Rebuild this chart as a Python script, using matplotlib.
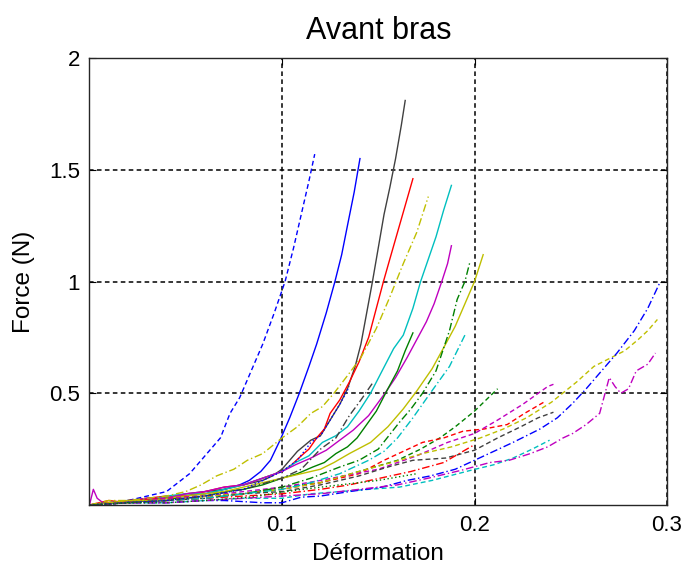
import matplotlib
matplotlib.use('Agg')
import matplotlib.pyplot as plt

# couleurs MATLAB (ancien ordre)
B = '#0000ff'
G = '#008000'
R = '#ff0000'
C = '#00bfbf'
M = '#bf00bf'
Y = '#bfbf00'
K = '#404040'

# --- courbes traits pleins ---
blue_solid_x = [0, 0.01, 0.02, 0.03, 0.04, 0.05, 0.06, 0.07, 0.078, 0.083, 0.089, 0.094, 0.099, 0.104, 0.109, 0.114, 0.118, 0.123, 0.1275, 0.131, 0.134, 0.1375, 0.1405]
blue_solid_y = [0, 0.01, 0.015, 0.02, 0.03, 0.04, 0.05, 0.07, 0.09, 0.11, 0.15, 0.2, 0.29, 0.39, 0.5, 0.62, 0.72, 0.86, 1.0, 1.12, 1.25, 1.4, 1.55]

gray_solid_x = [0, 0.01, 0.02, 0.03, 0.04, 0.05, 0.06, 0.07, 0.08, 0.09, 0.095, 0.1, 0.104, 0.108, 0.115, 0.12, 0.125, 0.13, 0.134, 0.138, 0.141, 0.144, 0.147, 0.15, 0.153, 0.156, 0.159, 0.162, 0.164]
gray_solid_y = [0, 0.01, 0.02, 0.03, 0.03, 0.05, 0.06, 0.07, 0.09, 0.11, 0.13, 0.16, 0.2, 0.24, 0.29, 0.31, 0.38, 0.45, 0.52, 0.62, 0.72, 0.86, 1.0, 1.15, 1.3, 1.42, 1.55, 1.7, 1.81]

red_solid_x = [0, 0.01, 0.02, 0.03, 0.04, 0.05, 0.06, 0.07, 0.08, 0.09, 0.1, 0.105, 0.11, 0.114, 0.118, 0.122, 0.125, 0.13, 0.135, 0.14, 0.145, 0.149, 0.1527, 0.156, 0.16, 0.164, 0.168]
red_solid_y = [0, 0.02, 0.01, 0.03, 0.04, 0.04, 0.06, 0.08, 0.09, 0.12, 0.15, 0.18, 0.22, 0.25, 0.3, 0.34, 0.41, 0.47, 0.55, 0.64, 0.75, 0.88, 1.0, 1.1, 1.22, 1.34, 1.46]

cyan_solid_x = [0, 0.01, 0.02, 0.03, 0.04, 0.05, 0.06, 0.07, 0.08, 0.09, 0.1, 0.107, 0.114, 0.121, 0.128, 0.134, 0.14, 0.146, 0.152, 0.158, 0.163, 0.168, 0.172, 0.176, 0.18, 0.184, 0.188]
cyan_solid_y = [0, 0.01, 0.02, 0.02, 0.04, 0.05, 0.05, 0.07, 0.09, 0.12, 0.15, 0.19, 0.22, 0.28, 0.31, 0.35, 0.42, 0.5, 0.6, 0.7, 0.76, 0.88, 1.0, 1.1, 1.2, 1.32, 1.43]

magenta_solid_x = [0, 0.002, 0.004, 0.007, 0.01, 0.02, 0.03, 0.04, 0.05, 0.06, 0.07, 0.08, 0.09, 0.1, 0.107, 0.115, 0.123, 0.13, 0.137, 0.145, 0.1535, 0.159, 0.165, 0.17, 0.175, 0.179, 0.183, 0.186, 0.188]
magenta_solid_y = [0, 0.07, 0.03, 0.01, 0.01, 0.02, 0.03, 0.03, 0.05, 0.06, 0.08, 0.09, 0.12, 0.15, 0.18, 0.21, 0.245, 0.29, 0.335, 0.4, 0.5, 0.57, 0.66, 0.74, 0.82, 0.9, 1.0, 1.08, 1.16]

green_solid_x = [0, 0.01, 0.02, 0.03, 0.04, 0.05, 0.06, 0.07, 0.08, 0.09, 0.1, 0.108, 0.116, 0.122, 0.128, 0.134, 0.139, 0.144, 0.149, 0.155, 0.16, 0.164, 0.168]
green_solid_y = [0, 0.01, 0.01, 0.02, 0.03, 0.03, 0.04, 0.06, 0.07, 0.09, 0.12, 0.14, 0.17, 0.19, 0.23, 0.26, 0.3, 0.36, 0.42, 0.52, 0.6, 0.69, 0.77]

yellow_solid_x = [0, 0.01, 0.02, 0.03, 0.04, 0.05, 0.06, 0.07, 0.08, 0.09, 0.1, 0.11, 0.12, 0.127, 0.135, 0.146, 0.155, 0.163, 0.17, 0.178, 0.185, 0.19, 0.195, 0.2, 0.2045]
yellow_solid_y = [0, 0.01, 0.02, 0.02, 0.03, 0.04, 0.05, 0.06, 0.08, 0.1, 0.12, 0.14, 0.16, 0.19, 0.23, 0.28, 0.35, 0.43, 0.51, 0.61, 0.72, 0.8, 0.9, 1.0, 1.12]

# --- courbes en tirets ---
blue_dash_x = [0, 0.01, 0.02, 0.03, 0.04, 0.046, 0.052, 0.058, 0.063, 0.068, 0.073, 0.078, 0.084, 0.09, 0.096, 0.1016, 0.106, 0.11, 0.114, 0.117]
blue_dash_y = [0, 0.01, 0.02, 0.04, 0.06, 0.1, 0.14, 0.2, 0.25, 0.3, 0.41, 0.48, 0.6, 0.72, 0.86, 1.0, 1.15, 1.3, 1.45, 1.57]

green_dash_x = [0, 0.02, 0.04, 0.06, 0.08, 0.1, 0.12, 0.14, 0.16, 0.172, 0.182, 0.19, 0.2, 0.206, 0.212]
green_dash_y = [0, 0.01, 0.02, 0.04, 0.05, 0.08, 0.1, 0.15, 0.2, 0.25, 0.3, 0.35, 0.42, 0.47, 0.52]

red_dash_x = [0, 0.02, 0.04, 0.06, 0.08, 0.1, 0.12, 0.14, 0.153, 0.163, 0.173, 0.184, 0.194, 0.205, 0.217, 0.226, 0.236]
red_dash_y = [0, 0.02, 0.03, 0.04, 0.05, 0.07, 0.1, 0.14, 0.2, 0.24, 0.28, 0.3, 0.33, 0.34, 0.36, 0.41, 0.46]

cyan_dash_x = [0, 0.02, 0.04, 0.06, 0.08, 0.1, 0.115, 0.13, 0.145, 0.161, 0.178, 0.198, 0.21, 0.22, 0.23, 0.239]
cyan_dash_y = [0, 0.01, 0.01, 0.02, 0.03, 0.03, 0.05, 0.06, 0.07, 0.08, 0.11, 0.155, 0.18, 0.21, 0.25, 0.29]

magenta_dash_x = [0, 0.02, 0.04, 0.06, 0.08, 0.1, 0.12, 0.15, 0.17, 0.186, 0.2, 0.212, 0.225, 0.238, 0.241]
magenta_dash_y = [0, 0.01, 0.03, 0.04, 0.06, 0.08, 0.11, 0.16, 0.22, 0.28, 0.32, 0.38, 0.45, 0.53, 0.54]

yellow_dash_x = [0, 0.02, 0.04, 0.06, 0.08, 0.1, 0.12, 0.14, 0.157, 0.173, 0.188, 0.203, 0.215, 0.227, 0.24, 0.253, 0.262, 0.27, 0.278, 0.285, 0.29, 0.295]
yellow_dash_y = [0, 0.02, 0.02, 0.04, 0.05, 0.07, 0.1, 0.15, 0.19, 0.23, 0.26, 0.3, 0.34, 0.39, 0.46, 0.55, 0.62, 0.655, 0.69, 0.74, 0.78, 0.83]

gray_dash_x = [0, 0.02, 0.04, 0.06, 0.08, 0.1, 0.12, 0.14, 0.155, 0.168, 0.185, 0.2, 0.212, 0.224, 0.233, 0.241]
gray_dash_y = [0, 0.01, 0.02, 0.03, 0.05, 0.06, 0.09, 0.13, 0.17, 0.2, 0.21, 0.245, 0.3, 0.35, 0.39, 0.415]

# --- courbes tiret-point ---
blue_dd_x = [0, 0.02, 0.04, 0.06, 0.07, 0.08, 0.09, 0.1, 0.11, 0.12, 0.135, 0.152, 0.165, 0.177, 0.19, 0.2, 0.21, 0.22, 0.234, 0.243, 0.251, 0.258, 0.265, 0.274, 0.283, 0.29, 0.296]
blue_dd_y = [0, 0.01, 0.01, 0.02, 0.02, 0.015, 0.01, 0.01, 0.035, 0.04, 0.06, 0.08, 0.11, 0.13, 0.16, 0.2, 0.24, 0.28, 0.34, 0.39, 0.455, 0.52, 0.59, 0.68, 0.78, 0.88, 0.99]

green_dd_x = [0, 0.02, 0.04, 0.06, 0.08, 0.1, 0.115, 0.13, 0.14, 0.15, 0.161, 0.167, 0.173, 0.18, 0.187, 0.191, 0.195, 0.1977]
green_dd_y = [0, 0.01, 0.02, 0.03, 0.05, 0.08, 0.12, 0.17, 0.2, 0.25, 0.37, 0.43, 0.5, 0.6, 0.78, 0.92, 1.0, 1.09]

red_dd_x = [0, 0.02, 0.04, 0.06, 0.08, 0.1, 0.12, 0.135, 0.151, 0.167, 0.184, 0.2]
red_dd_y = [0, 0.01, 0.02, 0.03, 0.04, 0.05, 0.07, 0.09, 0.12, 0.15, 0.19, 0.27]

cyan_dd_x = [0, 0.02, 0.04, 0.06, 0.08, 0.1, 0.115, 0.13, 0.145, 0.153, 0.16, 0.168, 0.177, 0.182, 0.187, 0.191, 0.195]
cyan_dd_y = [0, 0.01, 0.02, 0.03, 0.05, 0.07, 0.1, 0.14, 0.2, 0.24, 0.3, 0.39, 0.5, 0.56, 0.62, 0.69, 0.76]

magenta_dd_x = [0, 0.02, 0.04, 0.06, 0.08, 0.1, 0.12, 0.14, 0.16, 0.176, 0.193, 0.208, 0.218, 0.229, 0.238, 0.246, 0.251, 0.258, 0.265, 0.27, 0.273, 0.276, 0.28, 0.284, 0.29, 0.294]
magenta_dd_y = [0, 0.01, 0.01, 0.02, 0.03, 0.04, 0.05, 0.07, 0.09, 0.12, 0.155, 0.19, 0.2, 0.23, 0.26, 0.3, 0.32, 0.36, 0.41, 0.57, 0.53, 0.5, 0.52, 0.6, 0.63, 0.68]

yellow_dd_x = [0, 0.01, 0.02, 0.03, 0.04, 0.05, 0.058, 0.066, 0.075, 0.082, 0.09, 0.1, 0.108, 0.115, 0.121, 0.127, 0.135, 0.141, 0.149, 0.156, 0.163, 0.17, 0.176]
yellow_dd_y = [0, 0.02, 0.02, 0.03, 0.04, 0.06, 0.09, 0.13, 0.16, 0.2, 0.23, 0.3, 0.35, 0.41, 0.44, 0.5, 0.59, 0.66, 0.79, 0.93, 1.08, 1.22, 1.38]

gray_dd_x = [0, 0.02, 0.04, 0.06, 0.08, 0.1, 0.11, 0.12, 0.128, 0.135, 0.141, 0.147]
gray_dd_y = [0, 0.01, 0.02, 0.04, 0.07, 0.12, 0.16, 0.25, 0.3, 0.4, 0.47, 0.545]

# --- courbes pointillées ---
blue_dot_x = [0, 0.02, 0.04, 0.06, 0.08, 0.1, 0.108, 0.115, 0.12, 0.125, 0.13, 0.135]
blue_dot_y = [0, 0.01, 0.02, 0.04, 0.07, 0.15, 0.2, 0.28, 0.31, 0.38, 0.45, 0.53]

green_dot_x = [0, 0.02, 0.04, 0.06, 0.083, 0.108, 0.13, 0.15, 0.17]
green_dot_y = [0, 0.01, 0.01, 0.02, 0.035, 0.067, 0.09, 0.11, 0.14]

x_ticks = [0.1, 0.2, 0.3]
y_ticks = [0.5, 1, 1.5, 2]

styles = {
    '-': (None, None),
    '--': (0, (3.5, 2.2)),
    '-.': (0, (5.5, 2.0, 1.0, 2.0)),
    ':': (0, (1.0, 1.8)),
}

courbes = [
    (blue_solid_x, blue_solid_y, B, '-'),
    (gray_solid_x, gray_solid_y, K, '-'),
    (red_solid_x, red_solid_y, R, '-'),
    (cyan_solid_x, cyan_solid_y, C, '-'),
    (magenta_solid_x, magenta_solid_y, M, '-'),
    (green_solid_x, green_solid_y, G, '-'),
    (yellow_solid_x, yellow_solid_y, Y, '-'),
    (blue_dash_x, blue_dash_y, B, '--'),
    (green_dash_x, green_dash_y, G, '--'),
    (red_dash_x, red_dash_y, R, '--'),
    (cyan_dash_x, cyan_dash_y, C, '--'),
    (magenta_dash_x, magenta_dash_y, M, '--'),
    (yellow_dash_x, yellow_dash_y, Y, '--'),
    (gray_dash_x, gray_dash_y, K, '--'),
    (blue_dd_x, blue_dd_y, B, '-.'),
    (green_dd_x, green_dd_y, G, '-.'),
    (red_dd_x, red_dd_y, R, '-.'),
    (cyan_dd_x, cyan_dd_y, C, '-.'),
    (magenta_dd_x, magenta_dd_y, M, '-.'),
    (yellow_dd_x, yellow_dd_y, Y, '-.'),
    (gray_dd_x, gray_dd_y, K, '-.'),
    (blue_dot_x, blue_dot_y, B, ':'),
    (green_dot_x, green_dot_y, G, ':'),
]

plt.rcParams['font.family'] = ['Liberation Sans', 'DejaVu Sans']

fig = plt.figure(figsize=(6.91, 5.66), dpi=100)
ax = fig.add_axes([0.1295, 0.1078, 0.8358, 0.7897])

for xs, ys, col, ls in courbes:
    if ls == '-':
        ax.plot(xs, ys, color=col, lw=1.0)
    else:
        ax.plot(xs, ys, color=col, lw=1.0, linestyle=styles[ls])

ax.set_xlim(0, 0.3)
ax.set_ylim(0, 2)
ax.set_xticks(x_ticks)
ax.set_yticks(y_ticks)
ax.set_xticklabels(['0.1', '0.2', '0.3'])
ax.set_yticklabels(['0.5', '1', '1.5', '2'])
ax.tick_params(direction='in', length=5, width=0.8, labelsize=16, pad=7,
               top=True, right=True)
ax.set_axisbelow(True)
ax.grid(True, color='black', lw=1.1, linestyle=(0, (3, 2.2)))
for s in ax.spines.values():
    s.set_linewidth(1.0)
    s.set_color('#262626')

ax.set_title('Avant bras', fontsize=22, pad=14)
ax.set_xlabel('Déformation', fontsize=17.5, labelpad=5)
ax.set_ylabel('Force (N)', fontsize=17.5, labelpad=10)

fig.savefig('out.png', dpi=100)
